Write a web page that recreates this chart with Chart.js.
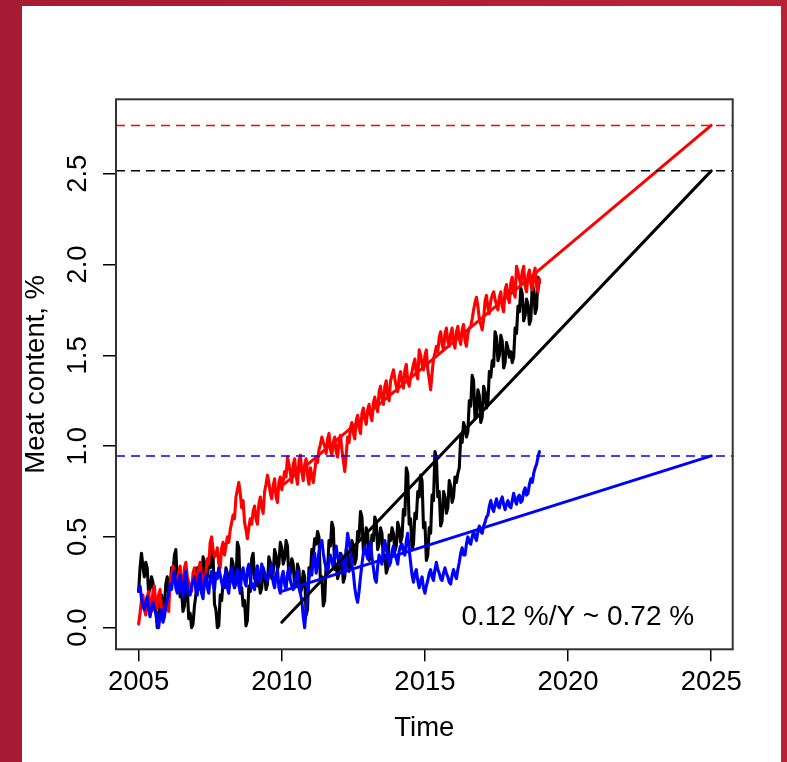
<!DOCTYPE html>
<html>
<head>
<meta charset="utf-8">
<script src="https://cdn.jsdelivr.net/npm/chart.js@4.4.1/dist/chart.umd.min.js"></script>
<style>
html, body { margin: 0; padding: 0; }
body {
    width: 787px; height: 762px; overflow: hidden;
    background: linear-gradient(90deg, #a61a34, #b92235);
}
#frame { position: absolute; left: 22px; top: 6px; width: 759px; height: 756px; background: #fff; }
</style>
</head>
<body>
<div id="frame"><canvas id="myChart" width="759" height="756"></canvas></div>
<script>
// series sampled every 0.05 year from 2005.0 to 2019.0 (one row = one year)
const startYear = 2005;
const step = 0.05;

const redSeries = [
    0.02, 0.08, 0.15, 0.18, 0.10, 0.07, 0.17, 0.20, 0.12, 0.09, 0.20, 0.23, 0.14, 0.11, 0.18, 0.21, 0.10, 0.06, 0.07, 0.13,
    0.12, 0.09, 0.25, 0.29, 0.34, 0.30, 0.26, 0.22, 0.30, 0.34, 0.24, 0.21, 0.33, 0.36, 0.28, 0.25, 0.23, 0.20, 0.30, 0.33,
    0.26, 0.23, 0.33, 0.36, 0.28, 0.24, 0.25, 0.30, 0.38, 0.35, 0.47, 0.50, 0.43, 0.39, 0.40, 0.44, 0.35, 0.33, 0.44, 0.47,
    0.40, 0.45, 0.50, 0.47, 0.54, 0.58, 0.62, 0.60, 0.72, 0.76, 0.80, 0.74, 0.66, 0.70, 0.58, 0.54, 0.49, 0.55, 0.60, 0.57,
    0.64, 0.67, 0.60, 0.57, 0.68, 0.72, 0.66, 0.63, 0.75, 0.79, 0.84, 0.80, 0.74, 0.71, 0.78, 0.82, 0.72, 0.69, 0.80, 0.83,
    0.76, 0.81, 0.86, 0.83, 0.94, 0.90, 0.85, 0.80, 0.90, 0.93, 0.84, 0.79, 0.92, 0.95, 0.86, 0.81, 0.90, 0.93, 0.84, 0.79,
    0.88, 0.84, 0.80, 0.86, 0.93, 0.91, 0.98, 1.01, 1.05, 1.02, 1.00, 0.96, 1.04, 1.07, 0.98, 0.95, 1.02, 1.05, 0.97, 0.94,
    1.03, 1.06, 0.98, 0.92, 0.86, 0.95, 1.05, 1.02, 1.10, 1.13, 1.07, 1.04, 1.14, 1.17, 1.10, 1.07, 1.18, 1.21, 1.15, 1.12,
    1.20, 1.23, 1.17, 1.14, 1.24, 1.27, 1.22, 1.19, 1.30, 1.33, 1.26, 1.23, 1.33, 1.36, 1.28, 1.25, 1.36, 1.39, 1.42, 1.37,
    1.33, 1.30, 1.38, 1.41, 1.35, 1.32, 1.42, 1.45, 1.36, 1.33, 1.38, 1.41, 1.45, 1.48, 1.40, 1.37, 1.53, 1.50, 1.45, 1.42,
    1.50, 1.53, 1.42, 1.37, 1.31, 1.40, 1.48, 1.51, 1.55, 1.52, 1.60, 1.63, 1.56, 1.53, 1.62, 1.65, 1.58, 1.55, 1.62, 1.65,
    1.57, 1.54, 1.63, 1.66, 1.59, 1.56, 1.64, 1.67, 1.58, 1.55, 1.62, 1.65, 1.66, 1.70, 1.75, 1.79, 1.82, 1.77, 1.70, 1.67,
    1.64, 1.70, 1.80, 1.83, 1.76, 1.73, 1.80, 1.83, 1.85, 1.81, 1.78, 1.75, 1.82, 1.85, 1.77, 1.74, 1.86, 1.89, 1.82, 1.79,
    1.90, 1.93, 1.85, 1.82, 1.99, 1.96, 1.92, 1.89, 1.96, 1.99, 1.88, 1.85, 1.94, 1.97, 1.89, 1.86, 1.95, 1.98, 1.88, 1.85,
    1.92
];

const blackSeries = [
    0.20, 0.33, 0.41, 0.34, 0.28, 0.36, 0.33, 0.19, 0.22, 0.28, 0.25, 0.13, 0.10, 0.00, 0.03, 0.15, 0.18, 0.09, 0.12, 0.24,
    0.28, 0.19, 0.22, 0.33, 0.30, 0.40, 0.43, 0.25, 0.28, 0.17, 0.20, 0.09, 0.12, 0.25, 0.22, 0.05, 0.08, 0.00, 0.02, 0.12,
    0.18, 0.33, 0.30, 0.21, 0.24, 0.39, 0.36, 0.25, 0.28, 0.36, 0.33, 0.43, 0.40, 0.13, 0.10, 0.00, 0.01, 0.18, 0.15, 0.25,
    0.22, 0.33, 0.30, 0.22, 0.25, 0.38, 0.35, 0.22, 0.25, 0.47, 0.44, 0.19, 0.22, 0.12, 0.15, 0.01, 0.04, 0.23, 0.20, 0.38,
    0.41, 0.27, 0.30, 0.23, 0.26, 0.19, 0.22, 0.33, 0.30, 0.21, 0.24, 0.39, 0.36, 0.27, 0.30, 0.43, 0.40, 0.32, 0.35, 0.47,
    0.44, 0.35, 0.38, 0.48, 0.45, 0.27, 0.30, 0.38, 0.35, 0.22, 0.25, 0.35, 0.32, 0.19, 0.22, 0.31, 0.28, 0.07, 0.10, 0.33,
    0.30, 0.43, 0.40, 0.49, 0.46, 0.53, 0.50, 0.25, 0.28, 0.12, 0.15, 0.35, 0.32, 0.48, 0.45, 0.58, 0.55, 0.32, 0.35, 0.27,
    0.30, 0.41, 0.38, 0.25, 0.28, 0.43, 0.40, 0.31, 0.34, 0.48, 0.45, 0.35, 0.38, 0.53, 0.50, 0.64, 0.61, 0.42, 0.45, 0.55,
    0.52, 0.37, 0.40, 0.51, 0.48, 0.61, 0.58, 0.43, 0.46, 0.55, 0.52, 0.37, 0.40, 0.30, 0.33, 0.51, 0.48, 0.55, 0.52, 0.42,
    0.45, 0.58, 0.55, 0.47, 0.50, 0.65, 0.62, 0.88, 0.85, 0.57, 0.60, 0.43, 0.46, 0.63, 0.60, 0.75, 0.72, 0.84, 0.81, 0.55,
    0.58, 0.37, 0.40, 0.55, 0.52, 0.73, 0.70, 0.97, 0.94, 0.72, 0.75, 0.56, 0.59, 0.75, 0.72, 0.63, 0.66, 0.81, 0.78, 0.69,
    0.72, 0.83, 0.80, 0.85, 0.88, 1.05, 1.02, 1.13, 1.10, 1.05, 1.08, 1.25, 1.22, 1.39, 1.36, 1.15, 1.18, 1.31, 1.28, 1.13,
    1.16, 1.33, 1.30, 1.21, 1.24, 1.41, 1.38, 1.47, 1.44, 1.63, 1.60, 1.47, 1.50, 1.61, 1.58, 1.43, 1.46, 1.57, 1.54, 1.49,
    1.52, 1.46, 1.49, 1.65, 1.62, 1.77, 1.74, 1.87, 1.84, 1.69, 1.72, 1.81, 1.78, 1.67, 1.70, 1.89, 1.86, 1.73, 1.76, 1.93,
    1.90
];

const blueSeries = [
    0.20, 0.23, 0.16, 0.12, 0.10, 0.14, 0.17, 0.10, 0.06, 0.11, 0.14, 0.10, 0.08, 0.03, 0.00, 0.07, 0.10, 0.03, 0.06, 0.12,
    0.15, 0.20, 0.24, 0.21, 0.28, 0.31, 0.22, 0.19, 0.26, 0.29, 0.20, 0.17, 0.28, 0.31, 0.22, 0.18, 0.18, 0.23, 0.25, 0.28,
    0.21, 0.18, 0.27, 0.30, 0.19, 0.16, 0.26, 0.29, 0.22, 0.19, 0.28, 0.31, 0.24, 0.21, 0.30, 0.27, 0.33, 0.29, 0.25, 0.22,
    0.28, 0.31, 0.22, 0.19, 0.30, 0.33, 0.25, 0.22, 0.29, 0.32, 0.23, 0.20, 0.30, 0.33, 0.26, 0.23, 0.32, 0.35, 0.27, 0.22,
    0.24, 0.21, 0.31, 0.34, 0.28, 0.25, 0.35, 0.32, 0.30, 0.27, 0.26, 0.29, 0.32, 0.35, 0.25, 0.22, 0.29, 0.32, 0.22, 0.19,
    0.28, 0.31, 0.24, 0.21, 0.30, 0.33, 0.26, 0.23, 0.21, 0.25, 0.28, 0.31, 0.22, 0.19, 0.15, 0.06, 0.00, 0.10, 0.20, 0.27,
    0.32, 0.29, 0.38, 0.41, 0.30, 0.34, 0.42, 0.46, 0.48, 0.41, 0.36, 0.33, 0.30, 0.36, 0.40, 0.37, 0.33, 0.40, 0.45, 0.39,
    0.35, 0.38, 0.40, 0.34, 0.30, 0.43, 0.52, 0.47, 0.42, 0.35, 0.30, 0.22, 0.17, 0.14, 0.20, 0.28, 0.35, 0.41, 0.45, 0.41,
    0.38, 0.44, 0.47, 0.39, 0.33, 0.27, 0.25, 0.34, 0.40, 0.37, 0.35, 0.43, 0.48, 0.43, 0.40, 0.34, 0.36, 0.42, 0.45, 0.40,
    0.38, 0.35, 0.42, 0.45, 0.46, 0.42, 0.40, 0.48, 0.52, 0.43, 0.36, 0.29, 0.25, 0.30, 0.32, 0.26, 0.22, 0.26, 0.28, 0.22,
    0.19, 0.23, 0.26, 0.30, 0.32, 0.28, 0.26, 0.32, 0.36, 0.32, 0.30, 0.27, 0.26, 0.30, 0.33, 0.30, 0.28, 0.25, 0.24, 0.29,
    0.32, 0.29, 0.27, 0.32, 0.36, 0.41, 0.44, 0.40, 0.40, 0.46, 0.50, 0.47, 0.46, 0.50, 0.53, 0.50, 0.48, 0.53, 0.56, 0.53,
    0.52, 0.56, 0.58, 0.61, 0.62, 0.67, 0.70, 0.66, 0.64, 0.68, 0.71, 0.67, 0.66, 0.70, 0.72, 0.68, 0.65, 0.68, 0.70, 0.67,
    0.66, 0.70, 0.74, 0.70, 0.68, 0.72, 0.73, 0.69, 0.70, 0.75, 0.77, 0.73, 0.74, 0.79, 0.82, 0.80, 0.85, 0.88, 0.90, 0.94,
    0.97
];

// fitted lines: value at each of trendYears
const trendYears = [2010, 2025];
const redTrend = [0.78, 2.766];
const blackTrend = [0.03, 2.516];
const blueTrend = [0.20, 0.946];

// horizontal target levels (dashed)
const targetLevels = [2.766, 2.516, 0.946];
const targetColors = ['#ff0000', '#000000', '#0000ff'];

const xTicks = [2005, 2010, 2015, 2020, 2025];
const yTicks = [0, 0.5, 1, 1.5, 2, 2.5];
const yTickLabels = ['0.0', '0.5', '1.0', '1.5', '2.0', '2.5'];
const noteText = '0.12 %/Y ~ 0.72 %';
const notePos = [2020.34, 0.015];

const FONT = '"Liberation Sans", Arial, sans-serif';

function toPoints(values) {
    return values.map((v, i) => ({ x: startYear + i * step, y: v }));
}
function trendPoints(ends) {
    return trendYears.map((yr, i) => ({ x: yr, y: ends[i] }));
}

const rPlot = {
    id: 'rPlot',
    afterDatasetsDraw(chart) {
        const c = chart.ctx, a = chart.chartArea, ys = chart.scales.y;
        c.save();
        c.beginPath();
        c.rect(a.left, a.top, a.right - a.left, a.bottom - a.top);
        c.clip();
        c.lineWidth = 1.5;
        c.setLineDash([9, 6]);
        targetLevels.forEach((lv, i) => {
            const py = ys.getPixelForValue(lv);
            c.strokeStyle = targetColors[i];
            c.beginPath();
            c.moveTo(a.left, py);
            c.lineTo(a.right, py);
            c.stroke();
        });
        c.restore();
    },
    afterDraw(chart) {
        const c = chart.ctx, a = chart.chartArea;
        const xs = chart.scales.x, ys = chart.scales.y;
        c.save();
        // box
        c.strokeStyle = '#333';
        c.lineWidth = 2;
        c.strokeRect(a.left, a.top, a.right - a.left, a.bottom - a.top);

        c.fillStyle = '#000';
        c.font = '27.5px ' + FONT;
        c.textAlign = 'center';
        c.textBaseline = 'alphabetic';
        xTicks.forEach(v => {
            c.fillText(String(v), xs.getPixelForValue(v), a.bottom + 41);
        });
        yTicks.forEach((v, i) => {
            c.save();
            c.translate(64, ys.getPixelForValue(v));
            c.rotate(-Math.PI / 2);
            c.fillText(yTickLabels[i], 0, 0);
            c.restore();
        });
        c.fillText('Time', (a.left + a.right) / 2, a.bottom + 87);
        c.save();
        c.translate(22, (a.top + a.bottom) / 2);
        c.rotate(-Math.PI / 2);
        c.fillText('Meat content, %', 0, 0);
        c.restore();

        c.font = '28px ' + FONT;
        c.fillText(noteText, xs.getPixelForValue(notePos[0]), ys.getPixelForValue(notePos[1]));
        c.restore();
    }
};

const ctx = document.querySelector('#myChart');

new Chart(ctx, {
    type: 'line',
    data: {
        datasets: [
            { data: toPoints(blueSeries), borderColor: '#0000ff', order: 1 },
            { data: toPoints(redSeries), borderColor: '#ff0000', order: 2 },
            { data: toPoints(blackSeries), borderColor: '#000000', order: 3 },
            { data: trendPoints(blueTrend), borderColor: '#0000ff', borderWidth: 3, order: 0 },
            { data: trendPoints(redTrend), borderColor: '#ff0000', borderWidth: 3, order: 0 },
            { data: trendPoints(blackTrend), borderColor: '#000000', borderWidth: 3, order: 0 }
        ]
    },
    options: {
        responsive: false,
        animation: false,
        devicePixelRatio: 1,
        layout: { padding: { left: 0, top: 93.3, right: 48.3, bottom: 0 } },
        elements: {
            point: { radius: 0, hoverRadius: 0 },
            line: { borderWidth: 3.1, tension: 0, borderJoinStyle: 'round', borderCapStyle: 'round', fill: false }
        },
        plugins: { legend: { display: false }, tooltip: { enabled: false } },
        events: [],
        scales: {
            x: {
                type: 'linear',
                min: 2004.21,
                max: 2025.75,
                afterBuildTicks(s) { s.ticks = xTicks.map(v => ({ value: v })); },
                afterFit(s) { s.height = 112.7; },
                ticks: { display: false },
                border: { display: false },
                grid: { drawOnChartArea: false, drawTicks: true, tickLength: 12, color: '#000', lineWidth: 1.5 }
            },
            y: {
                type: 'linear',
                min: -0.119,
                max: 2.91,
                afterBuildTicks(s) { s.ticks = yTicks.map(v => ({ value: v })); },
                afterFit(s) { s.width = 94; },
                ticks: { display: false },
                border: { display: false },
                grid: { drawOnChartArea: false, drawTicks: true, tickLength: 13, color: '#000', lineWidth: 1.5 }
            }
        }
    },
    plugins: [rPlot]
});
</script>
</body>
</html>
